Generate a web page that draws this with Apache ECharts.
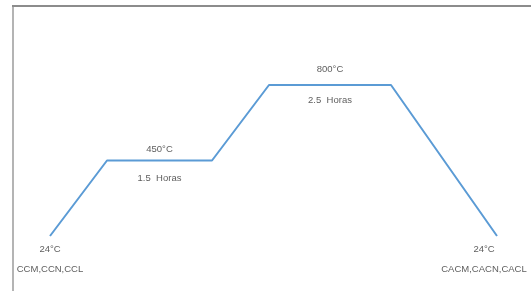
<!DOCTYPE html>
<html>
<head>
<meta charset="utf-8">
<script src="https://cdn.jsdelivr.net/npm/echarts@6/dist/echarts.min.js"></script>
<style>
  html, body { margin: 0; padding: 0; background: #fff; }
  #chart { width: 531px; height: 291px; }
</style>
</head>
<body>
<div id="chart"></div>
<script>
// time position of each corner of the profile (arbitrary units)
var timePoints = [0, 57, 162, 219, 341, 447];
// temperature level: 0 = 24°C, 1 = 450°C, 2 = 800°C
var tempLevels = [0, 1, 1, 2, 2, 0];
var startLabel = '24°C\nCCM,CCN,CCL';
var endLabel = '24°C\nCACM,CACN,CACL';
// flat stages: [from index, to index, temperature text, duration text]
var stages = [
    [1, 2, '450°C', '1.5  Horas'],
    [3, 4, '800°C', '2.5  Horas'],
];
// gap above / below the line for each stage's labels (px)
var stageGaps = [[6, 13], [11, 10]];

var font = '"Liberation Sans", Arial, sans-serif';
var textColor = '#333';

var lineData = timePoints.map(function (t, i) {
    return [t, tempLevels[i]];
});
var last = timePoints.length - 1;
var endPoints = [
    { value: [timePoints[0], tempLevels[0]], name: startLabel },
    { value: [timePoints[last], tempLevels[last]], name: endLabel, label: { offset: [-13, 0] } },
];

var topLabels = [];
var bottomLabels = [];
stages.forEach(function (s, i) {
    var mid = (timePoints[s[0]] + timePoints[s[1]]) / 2;
    topLabels.push({ value: [mid, tempLevels[s[0]]], name: s[2], label: { distance: stageGaps[i][0] } });
    bottomLabels.push({ value: [mid, tempLevels[s[0]]], name: s[3], label: { distance: stageGaps[i][1] } });
});

var labelStyle = { show: true, formatter: '{b}', color: textColor, fontFamily: font, fontSize: 9.5 };

var myChart = echarts.init(document.getElementById('chart'));
var option = {
    animation: false,
    grid: { left: 50, top: 85, width: 447, height: 151 },
    xAxis: { type: 'value', min: 0, max: 447, show: false },
    yAxis: { type: 'value', min: 0, max: 2, show: false },
    graphic: [
        { type: 'line', shape: { x1: 13, y1: 5, x2: 13, y2: 291 }, style: { stroke: '#b4b4b4', lineWidth: 2 } },
        { type: 'line', shape: { x1: 12, y1: 6, x2: 531, y2: 6 }, style: { stroke: '#8c8c8c', lineWidth: 2 } },
    ],
    series: [
        {
            type: 'line',
            data: lineData,
            symbol: 'none',
            lineStyle: { color: '#5b9bd5', width: 2 },
        },
        {
            type: 'scatter',
            data: endPoints,
            symbolSize: 0,
            label: Object.assign({}, labelStyle, { position: 'bottom', distance: 3, lineHeight: 20 }),
        },
        {
            type: 'scatter',
            data: topLabels,
            symbolSize: 0,
            label: Object.assign({}, labelStyle, { position: 'top' }),
        },
        {
            type: 'scatter',
            data: bottomLabels,
            symbolSize: 0,
            label: Object.assign({}, labelStyle, { position: 'bottom' }),
        },
    ],
};
myChart.setOption(option);
</script>
</body>
</html>
